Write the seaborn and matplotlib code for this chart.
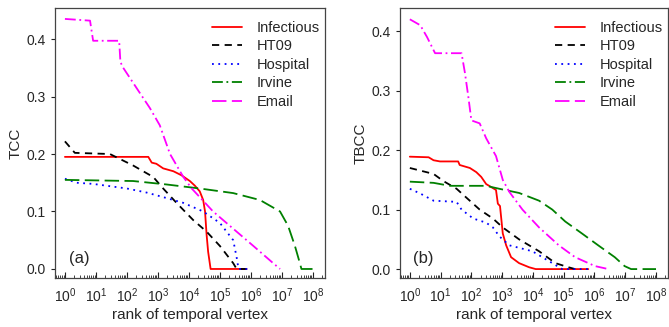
import numpy as np
import pandas as pd
import matplotlib
matplotlib.use("Agg")
import matplotlib.pyplot as plt
from matplotlib.lines import Line2D
from matplotlib.ticker import LogLocator, NullFormatter
import seaborn as sns

# ─── Data (log10 of rank, value) ──────────────────────────────────────────────
# panel (a): TCC
a_inf_x = [0, 2.69, 2.8, 2.95, 3.17, 3.5, 3.76, 4.03, 4.19, 4.35, 4.46, 4.52, 4.57, 4.62, 4.7, 5.86]
a_inf_y = [0.195, 0.195, 0.185, 0.183, 0.175, 0.170, 0.163, 0.153, 0.145, 0.135, 0.12, 0.10, 0.06, 0.03, 0.0, 0.0]
a_ht_x = [0, 0.32, 1.45, 2.2, 2.85, 3.17, 3.6, 4.14, 4.57, 5.0, 5.43, 5.54, 5.86]
a_ht_y = [0.222, 0.202, 0.200, 0.18, 0.16, 0.14, 0.115, 0.085, 0.065, 0.04, 0.01, 0.0, 0.0]
a_hos_x = [0, 0.38, 0.91, 2.0, 2.63, 3.17, 3.82, 4.46, 5.0, 5.43, 5.54, 5.6, 5.91]
a_hos_y = [0.157, 0.150, 0.148, 0.14, 0.133, 0.125, 0.115, 0.10, 0.08, 0.05, 0.02, 0.0, 0.0]
a_irv_x = [0, 2.2, 3.28, 4.35, 5.43, 6.29, 6.94, 7.2, 7.42, 7.58, 7.63, 8.0]
a_irv_y = [0.155, 0.153, 0.147, 0.14, 0.132, 0.12, 0.10, 0.075, 0.04, 0.01, 0.0, 0.0]
a_em_x = [0, 0.81, 0.91, 1.75, 1.79, 1.88, 2.37, 2.74, 3.06, 3.39, 3.82, 4.09, 4.35, 4.78, 5.43, 6.08, 6.72, 6.94]
a_em_y = [0.435, 0.432, 0.397, 0.397, 0.36, 0.35, 0.31, 0.28, 0.25, 0.20, 0.16, 0.14, 0.125, 0.10, 0.07, 0.04, 0.01, 0.0]

# panel (b): TBCC
b_inf_x = [0, 0.61, 0.77, 0.98, 1.57, 1.62, 1.95, 2.16, 2.32, 2.48, 2.64, 2.8, 2.86, 2.93, 3.02, 3.13, 3.29, 3.55, 3.88, 4.09, 5.8]
b_inf_y = [0.189, 0.188, 0.183, 0.181, 0.181, 0.175, 0.17, 0.163, 0.155, 0.143, 0.138, 0.133, 0.11, 0.106, 0.06, 0.04, 0.02, 0.01, 0.003, 0.0, 0.0]
b_ht_x = [0, 0.77, 1.09, 1.52, 1.84, 2.27, 2.7, 3.02, 3.55, 4.2, 4.73, 5.16, 5.37]
b_ht_y = [0.17, 0.16, 0.148, 0.135, 0.12, 0.10, 0.085, 0.07, 0.05, 0.03, 0.01, 0.003, 0.0]
b_hos_x = [0, 0.34, 0.77, 1.52, 1.68, 2.06, 2.48, 2.7, 2.91, 3.23, 3.98, 4.63, 4.95, 5.91]
b_hos_y = [0.135, 0.127, 0.115, 0.113, 0.10, 0.085, 0.078, 0.07, 0.055, 0.04, 0.03, 0.01, 0.0, 0.0]
b_irv_x = [0, 0.77, 1.3, 2.48, 2.91, 3.55, 4.2, 4.63, 5.05, 5.59, 6.12, 6.66, 6.98, 7.19, 8.0]
b_irv_y = [0.147, 0.145, 0.14, 0.14, 0.135, 0.128, 0.115, 0.10, 0.08, 0.06, 0.04, 0.02, 0.005, 0.0, 0.0]
b_em_x = [0, 0.34, 0.56, 0.82, 1.68, 1.79, 1.9, 2.0, 2.27, 2.48, 2.8, 3.02, 3.23, 3.66, 4.2, 4.84, 5.37, 6.02, 6.45]
b_em_y = [0.42, 0.41, 0.39, 0.363, 0.363, 0.33, 0.29, 0.25, 0.245, 0.22, 0.19, 0.15, 0.13, 0.10, 0.07, 0.04, 0.02, 0.005, 0.0]

names = ["Infectious", "HT09", "Hospital", "Irvine", "Email"]
yticks = [0.0, 0.1, 0.2, 0.3, 0.4]

# ─── Styles ───────────────────────────────────────────────────────────────────
COLORS = {"Infectious": "#ff0000", "HT09": "#000000", "Hospital": "#0000ff",
          "Irvine": "#008000", "Email": "#ff00ff"}
LINE_STYLE = {"Infectious": "-", "HT09": (0, (4, 3)), "Hospital": (0, (1, 2.5)),
              "Irvine": (0, (8, 3)), "Email": (0, (6, 2, 1, 2))}
LEG_STYLE = {"Infectious": "-", "HT09": (0, (4, 3)), "Hospital": (0, (1, 2.5)),
             "Irvine": (0, (6, 2, 1, 2)), "Email": (0, (8, 3))}

sns.set_style("ticks")
plt.rcParams["font.family"] = ["Liberation Sans", "DejaVu Sans"]
plt.rcParams["mathtext.fontset"] = "custom"
plt.rcParams["mathtext.rm"] = "Liberation Sans"
plt.rcParams["mathtext.it"] = "Liberation Sans:italic"


def draw_panel(ax, series, ylabel, label, ylim):
    for name, (xs, ys) in zip(names, series):
        df = pd.DataFrame({"x": 10.0 ** np.array(xs), "y": ys})
        sns.lineplot(data=df, x="x", y="y", ax=ax, sort=False, estimator=None,
                     color=COLORS[name], linestyle=LINE_STYLE[name], lw=1.3)
    ax.set_xscale("log")
    ax.set_xlim(10 ** -0.32, 10 ** 8.39)
    ax.set_ylim(*ylim)
    ax.set_xticks([10.0 ** k for k in range(9)])
    ax.xaxis.set_minor_locator(LogLocator(base=10, subs=np.arange(2, 10), numticks=30))
    ax.xaxis.set_minor_formatter(NullFormatter())
    ax.set_yticks(yticks)
    ax.set_yticklabels([f"{v:.1f}" for v in yticks])
    ax.set_xlabel("rank of temporal vertex", fontsize=11, labelpad=2)
    ax.set_ylabel(ylabel, fontsize=11, labelpad=3)
    ax.tick_params(axis="x", which="both", direction="in", labelsize=10, pad=6,
                   color="#222222")
    ax.tick_params(axis="x", which="major", length=4, width=0.8)
    ax.tick_params(axis="x", which="minor", length=2, width=0.6)
    ax.tick_params(axis="y", direction="out", labelsize=10, length=3, color="#222222")
    for s in ax.spines.values():
        s.set_color("#444444")
        s.set_linewidth(0.9)
    handles = [Line2D([], [], color=COLORS[n], linestyle=LEG_STYLE[n], lw=1.3) for n in names]
    ax.legend(handles, names, loc="upper right", bbox_to_anchor=(1.03, 1.0),
              frameon=False, fontsize=10.5, labelspacing=0.3,
              handlelength=2.1, handletextpad=1.0)
    ax.text(0.05, 0.055, label, transform=ax.transAxes, fontsize=12)


fig = plt.figure(figsize=(6.69, 3.27), dpi=100)
ax1 = fig.add_axes([55 / 669, 49 / 327, 270 / 669, 270 / 327])
ax2 = fig.add_axes([400 / 669, 49 / 327, 268 / 669, 270 / 327])

draw_panel(ax1, [(a_inf_x, a_inf_y), (a_ht_x, a_ht_y), (a_hos_x, a_hos_y),
                 (a_irv_x, a_irv_y), (a_em_x, a_em_y)], "TCC", "(a)", (-0.0157, 0.454))
draw_panel(ax2, [(b_inf_x, b_inf_y), (b_ht_x, b_ht_y), (b_hos_x, b_hos_y),
                 (b_irv_x, b_irv_y), (b_em_x, b_em_y)], "TBCC", "(b)", (-0.015, 0.439))

fig.savefig("out.png", dpi=100)
